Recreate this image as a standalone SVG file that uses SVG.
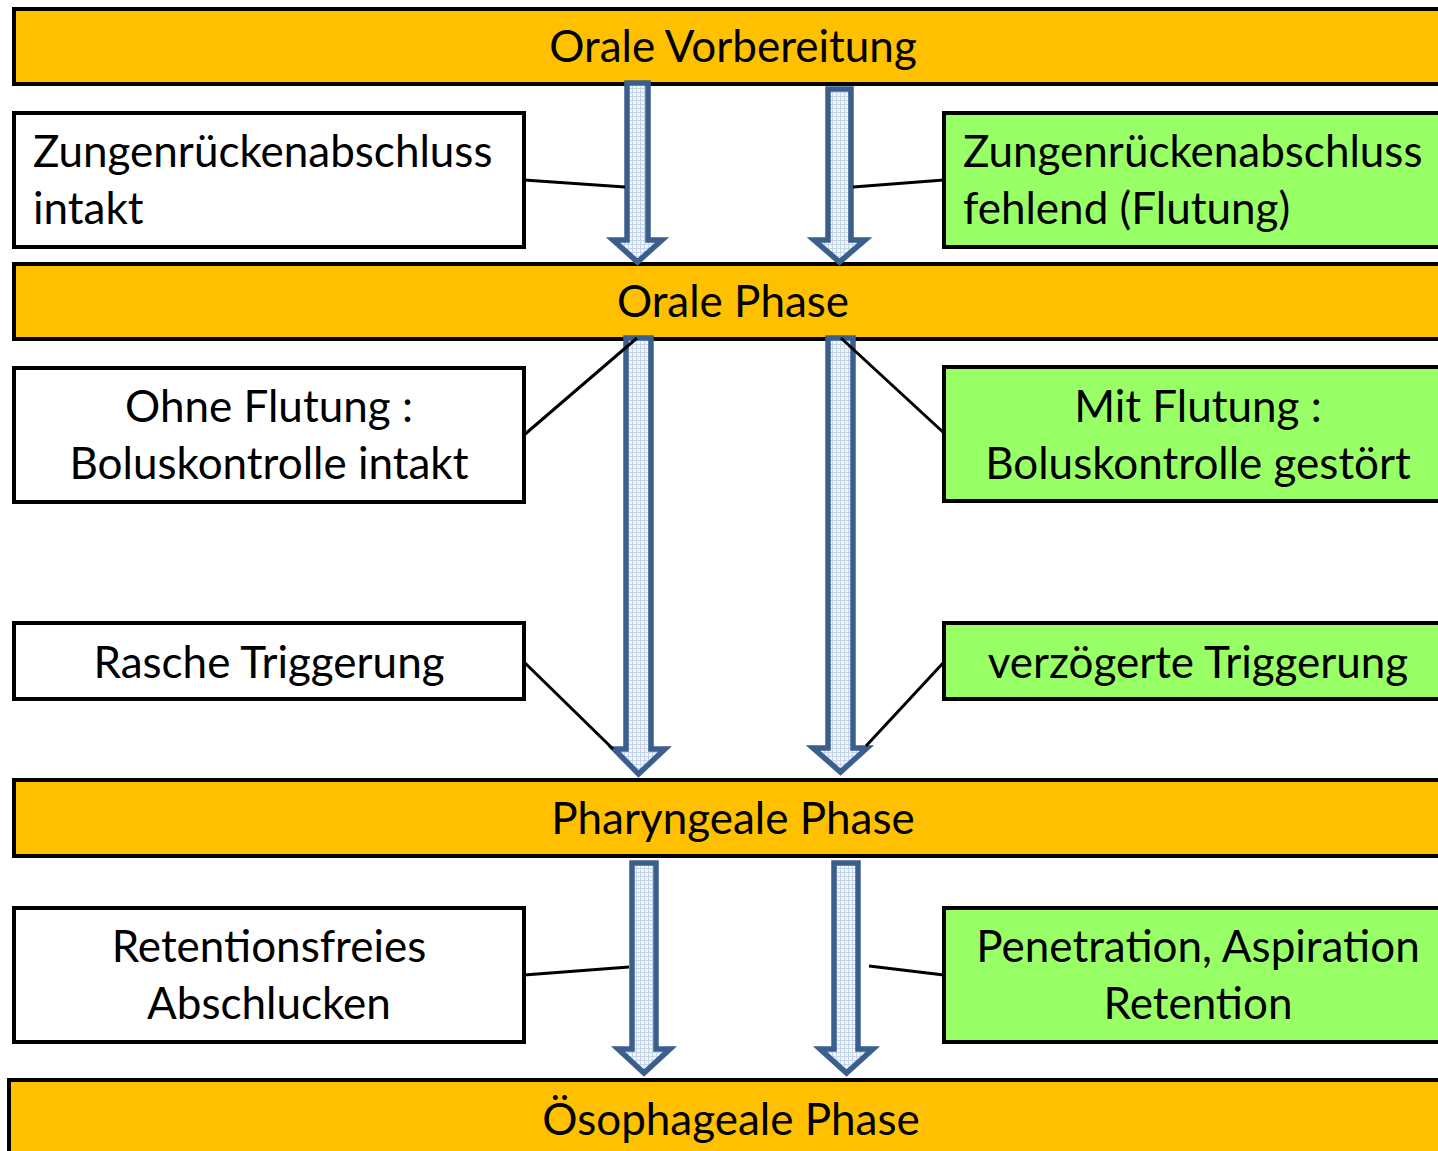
<svg xmlns="http://www.w3.org/2000/svg" width="1438" height="1151" viewBox="0 0 1438 1151">
<defs>
<pattern id="dots" width="4" height="4" patternUnits="userSpaceOnUse">
<rect width="4" height="4" fill="#F2F6FB"/>
<rect x="0" y="0" width="1" height="4" fill="#C3D3E8"/>
<rect x="0" y="0" width="4" height="1" fill="#C3D3E8"/>
</pattern>
<style>
.bar{fill:#FFC000;stroke:#000;stroke-width:4}
.wbox{fill:#FFFFFF;stroke:#000;stroke-width:4}
.gbox{fill:#99FF66;stroke:#000;stroke-width:4}
.t{font-family:Lato,"Open Sans","Liberation Sans",sans-serif;font-size:44px;fill:#000}
.c{text-anchor:middle}
.arr{fill:url(#dots);stroke:#3A5F8D;stroke-width:5.5;stroke-linejoin:miter}
.ln{stroke:#000;stroke-width:3;fill:none}
</style>
</defs>
<g id="bar1"><rect class="bar" x="14" y="9" width="1440" height="75"/><text class="t c" x="733" y="62">Orale Vorbereitung</text></g>
<g id="bar2"><rect class="bar" x="14" y="264" width="1440" height="75"/><text class="t c" x="733" y="317">Orale Phase</text></g>
<g id="bar3"><rect class="bar" x="14" y="780" width="1440" height="76"/><text class="t c" x="733" y="834">Pharyngeale Phase</text></g>
<g id="bar4"><rect class="bar" x="9" y="1080" width="1445" height="90"/><text class="t c" x="731" y="1135">Ösophageale Phase</text></g>

<g id="l1"><rect class="wbox" x="14" y="113" width="510" height="134"/><text class="t" x="33" y="167">Zungenrückenabschluss</text><text class="t" x="33" y="224">intakt</text></g>
<g id="l2"><rect class="wbox" x="14" y="368" width="510" height="134"/><text class="t c" x="269" y="422">Ohne Flutung :</text><text class="t c" x="269" y="479">Boluskontrolle intakt</text></g>
<g id="l3"><rect class="wbox" x="14" y="623" width="510" height="76"/><text class="t c" x="269" y="678">Rasche Triggerung</text></g>
<g id="l4"><rect class="wbox" x="14" y="908" width="510" height="134"/><text class="t c" x="269" y="962">Retentionsfreies</text><text class="t c" x="269" y="1019">Abschlucken</text></g>

<g id="r1"><rect class="gbox" x="944" y="113" width="510" height="134"/><text class="t" x="963" y="167">Zungenrückenabschluss</text><text class="t" x="963" y="224">fehlend (Flutung)</text></g>
<g id="r2"><rect class="gbox" x="944" y="367" width="510" height="134"/><text class="t c" x="1198" y="422">Mit Flutung :</text><text class="t c" x="1198" y="479">Boluskontrolle gestört</text></g>
<g id="r3"><rect class="gbox" x="944" y="623" width="510" height="76"/><text class="t c" x="1198" y="678">verzögerte Triggerung</text></g>
<g id="r4"><rect class="gbox" x="944" y="908" width="510" height="134"/><text class="t c" x="1198" y="962">Penetration, Aspiration</text><text class="t c" x="1198" y="1019">Retention</text></g>

<g id="connectors">
<path class="arr" d="M627,83 H648 V240 H662 L637.5,262 L613,240 H627 Z"/>
<path class="arr" d="M828,89 H851 V240 H865 L839.5,262 L814,240 H828 Z"/>
<path class="arr" d="M626,338 H651 V749 H665 L638.5,774 L614,749 H626 Z"/>
<path class="arr" d="M828,338 H853 V748 H867 L840.5,772 L813,748 H828 Z"/>
<path class="arr" d="M632,863 H656 V1049 H670 L644,1073 L618,1049 H632 Z"/>
<path class="arr" d="M834,863 H858 V1049 H873 L846.5,1073 L820,1049 H834 Z"/>
<line class="ln" x1="524" y1="180" x2="625" y2="187"/>
<line class="ln" x1="853" y1="187" x2="944" y2="180"/>
<line class="ln" x1="524" y1="435" x2="637" y2="338"/>
<line class="ln" x1="841" y1="338" x2="944" y2="433"/>
<line class="ln" x1="524" y1="662" x2="613" y2="749"/>
<line class="ln" x1="944" y1="662" x2="866" y2="746"/>
<line class="ln" x1="524" y1="975" x2="629" y2="967"/>
<line class="ln" x1="869" y1="966" x2="944" y2="975"/>
</g>
</svg>
